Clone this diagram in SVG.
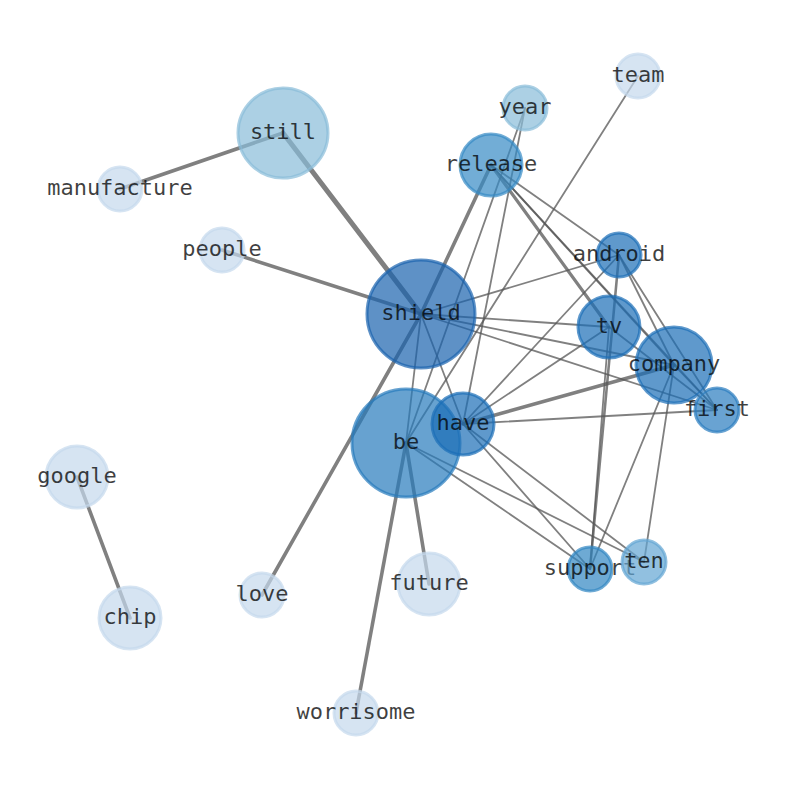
<svg xmlns="http://www.w3.org/2000/svg" width="794" height="790" viewBox="0 0 794 790">
<style>
.e{stroke:#555;stroke-opacity:0.75;stroke-linecap:round;fill:none}
.t{stroke-width:1.8}
.m{stroke-width:2.6}
.k{stroke-width:3.6}
.n circle{fill-opacity:0.7;stroke-opacity:0.7;stroke-width:3}
.n text{font-family:"DejaVu Sans Mono",monospace;font-size:22px;fill:#000;fill-opacity:0.75;text-anchor:middle;dominant-baseline:central}
.c1 circle{fill:#1a63ae;stroke:#1a63ae}
.c2 circle{fill:#277abc;stroke:#277abc}
.c3 circle{fill:#1b6eb6;stroke:#1b6eb6}
.c4 circle{fill:#2a7cbf;stroke:#2a7cbf}
.c5 circle{fill:#368ac5;stroke:#368ac5}
.c6 circle{fill:#3086c2;stroke:#3086c2}
.c7 circle{fill:#62a5d3;stroke:#62a5d3}
.c8 circle{fill:#89bcd9;stroke:#89bcd9}
.c9 circle{fill:#c4d9ec;stroke:#c4d9ec}
</style>
<rect width="794" height="790" fill="#fff"/>
<g id="edges">
<line class="e k" x1="283" y1="133" x2="120" y2="189"/>
<line class="e k" x1="283" y1="133" x2="421" y2="314" style="stroke-width:5"/>
<line class="e k" x1="222" y1="250" x2="421" y2="314"/>
<line class="e k" x1="77" y1="477" x2="130" y2="618"/>
<line class="e k" x1="421" y1="314" x2="491" y2="165"/>
<line class="e k" x1="421" y1="314" x2="262" y2="595"/>
<line class="e k" x1="406" y1="443" x2="429" y2="584"/>
<line class="e k" x1="406" y1="443" x2="356" y2="713"/>
<line class="e k" x1="463" y1="424" x2="674" y2="365"/>
<line class="e m" x1="491" y1="165" x2="609" y2="327" style="stroke-width:3.2"/>
<line class="e m" x1="619" y1="255" x2="590" y2="569"/>
<line class="e t" x1="421" y1="314" x2="619" y2="255"/>
<line class="e t" x1="421" y1="314" x2="609" y2="327"/>
<line class="e t" x1="421" y1="314" x2="674" y2="365"/>
<line class="e t" x1="421" y1="314" x2="717" y2="410"/>
<line class="e t" x1="421" y1="314" x2="463" y2="424"/>
<line class="e t" x1="421" y1="314" x2="406" y2="443"/>
<line class="e t" x1="525" y1="108" x2="406" y2="443"/>
<line class="e t" x1="525" y1="108" x2="463" y2="424"/>
<line class="e t" x1="638" y1="76" x2="406" y2="443"/>
<line class="e t" x1="491" y1="165" x2="619" y2="255"/>
<line class="e t" x1="491" y1="165" x2="674" y2="365"/>
<line class="e t" x1="491" y1="165" x2="717" y2="410"/>
<line class="e t" x1="619" y1="255" x2="463" y2="424"/>
<line class="e t" x1="619" y1="255" x2="674" y2="365"/>
<line class="e t" x1="619" y1="255" x2="717" y2="410"/>
<line class="e t" x1="609" y1="327" x2="463" y2="424"/>
<line class="e t" x1="609" y1="327" x2="590" y2="569"/>
<line class="e t" x1="609" y1="327" x2="717" y2="410"/>
<line class="e t" x1="674" y1="365" x2="717" y2="410"/>
<line class="e t" x1="674" y1="365" x2="590" y2="569"/>
<line class="e t" x1="674" y1="365" x2="644" y2="562"/>
<line class="e t" x1="463" y1="424" x2="717" y2="410"/>
<line class="e t" x1="463" y1="424" x2="590" y2="569"/>
<line class="e t" x1="463" y1="424" x2="644" y2="562"/>
<line class="e t" x1="406" y1="443" x2="590" y2="569"/>
<line class="e t" x1="406" y1="443" x2="644" y2="562"/>
</g>
<g id="node-still" class="n c8"><circle cx="283" cy="133" r="45"/><text x="283" y="131.5">still</text></g>
<g id="node-manufacture" class="n c9"><circle cx="120" cy="189" r="22"/><text x="120" y="187.5">manufacture</text></g>
<g id="node-people" class="n c9"><circle cx="222" cy="250" r="22"/><text x="222" y="248.5">people</text></g>
<g id="node-team" class="n c9"><circle cx="638" cy="76" r="22"/><text x="638" y="74.5">team</text></g>
<g id="node-year" class="n c8"><circle cx="525" cy="108" r="22"/><text x="525" y="106.5">year</text></g>
<g id="node-release" class="n c5"><circle cx="491" cy="165" r="31"/><text x="491" y="163.5">release</text></g>
<g id="node-shield" class="n c1"><circle cx="421" cy="314" r="54"/><text x="421" y="312.5">shield</text></g>
<g id="node-android" class="n c3"><circle cx="619" cy="255" r="22"/><text x="619" y="253.5">android</text></g>
<g id="node-tv" class="n c3"><circle cx="609" cy="327" r="31"/><text x="609" y="325.5">tv</text></g>
<g id="node-company" class="n c3"><circle cx="674" cy="365" r="38"/><text x="674" y="363.5">company</text></g>
<g id="node-first" class="n c4"><circle cx="717" cy="410" r="22"/><text x="717" y="408.5">first</text></g>
<g id="node-be" class="n c2"><circle cx="406" cy="443" r="54"/><text x="406" y="441.5">be</text></g>
<g id="node-have" class="n c3"><circle cx="463" cy="424" r="31"/><text x="463" y="422.5">have</text></g>
<g id="node-google" class="n c9"><circle cx="77" cy="477" r="31"/><text x="77" y="475.5">google</text></g>
<g id="node-chip" class="n c9"><circle cx="130" cy="618" r="31"/><text x="130" y="616.5">chip</text></g>
<g id="node-love" class="n c9"><circle cx="262" cy="595" r="22"/><text x="262" y="593.5">love</text></g>
<g id="node-future" class="n c9"><circle cx="429" cy="584" r="31"/><text x="429" y="582.5">future</text></g>
<g id="node-worrisome" class="n c9"><circle cx="356" cy="713" r="22"/><text x="356" y="711.5">worrisome</text></g>
<g id="node-support" class="n c6"><circle cx="590" cy="569" r="22"/><text x="590" y="567.5">support</text></g>
<g id="node-ten" class="n c7"><circle cx="644" cy="562" r="22"/><text x="644" y="560.5">ten</text></g>
</svg>
